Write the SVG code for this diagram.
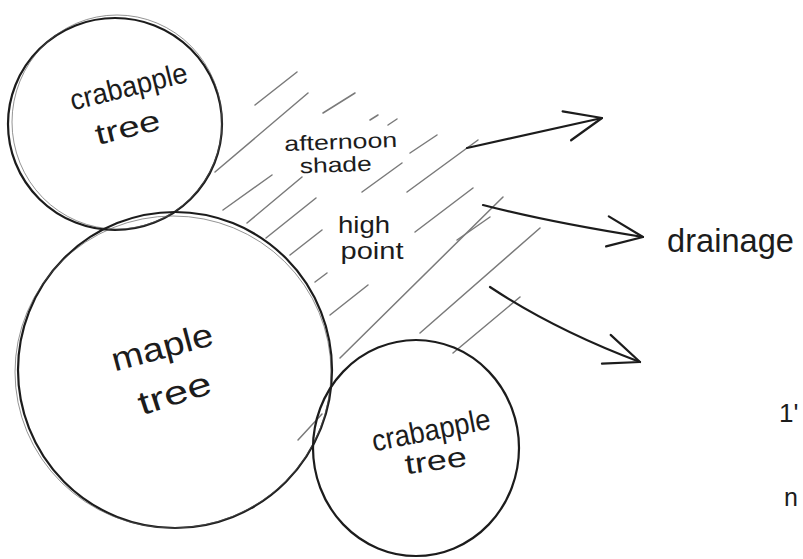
<svg xmlns="http://www.w3.org/2000/svg" width="803" height="559" viewBox="0 0 803 559">
<style>
.bg{fill:#ffffff}
.tree{fill:none;stroke:#1c1c1c;stroke-width:2.2}
.tree2{fill:none;stroke:#555;stroke-width:0.9;opacity:0.7}
.hatch{stroke:#7a7a7a;stroke-width:1.5;stroke-linecap:round;fill:none}
.arrow{fill:none;stroke:#1c1c1c;stroke-width:2.2;stroke-linecap:round}
.lbl{font-family:"Liberation Sans","DejaVu Sans",sans-serif;fill:#1c1c1c}
</style>
<defs>
<marker id="chev" markerUnits="userSpaceOnUse" markerWidth="60" markerHeight="60" refX="0" refY="0" viewBox="-45 -30 50 60" orient="auto" overflow="visible">
<path d="M-37,-15 L0,0 L-35,15" fill="none" stroke="#1c1c1c" stroke-width="2.2" stroke-linecap="round" stroke-linejoin="round"/>
</marker>
</defs>
<rect class="bg" x="0" y="0" width="803" height="559"/>

<g id="shade-hatch">
<line class="hatch" x1="255" y1="105" x2="297" y2="72"/>
<line class="hatch" x1="215" y1="172" x2="308" y2="93"/>
<line class="hatch" x1="323" y1="113" x2="355" y2="93"/>
<line class="hatch" x1="370" y1="120" x2="378" y2="115"/>
<line class="hatch" x1="388" y1="125" x2="397" y2="119"/>
<line class="hatch" x1="410" y1="153" x2="437" y2="135"/>
<line class="hatch" x1="362" y1="192" x2="402" y2="163"/>
<line class="hatch" x1="407" y1="192" x2="478" y2="140"/>
<line class="hatch" x1="223" y1="210" x2="272" y2="175"/>
<line class="hatch" x1="247" y1="223" x2="302" y2="177"/>
<line class="hatch" x1="266" y1="238" x2="316" y2="198"/>
<line class="hatch" x1="290" y1="255" x2="322" y2="230"/>
<line class="hatch" x1="315" y1="282" x2="327" y2="273"/>
<line class="hatch" x1="330" y1="315" x2="368" y2="285"/>
<line class="hatch" x1="340" y1="358" x2="503" y2="197"/>
<line class="hatch" x1="415" y1="232" x2="473" y2="188"/>
<line class="hatch" x1="457" y1="240" x2="490" y2="217"/>
<line class="hatch" x1="420" y1="333" x2="540" y2="228"/>
<line class="hatch" x1="453" y1="353" x2="520" y2="297"/>
<line class="hatch" x1="298" y1="440" x2="322" y2="414"/>
</g>

<g id="crabapple-top">
<ellipse class="tree" cx="115" cy="124" rx="107" ry="106"/>
<ellipse class="tree2" cx="117" cy="122" rx="105" ry="107"/>
<text class="lbl" font-size="29" textLength="120" lengthAdjust="spacingAndGlyphs" transform="translate(131,96) rotate(-14)" text-anchor="middle" x="0" y="0">crabapple</text>
<text class="lbl" font-size="29" textLength="66" lengthAdjust="spacingAndGlyphs" transform="translate(130,137) rotate(-14)" text-anchor="middle" x="0" y="0">tree</text>
</g>

<g id="maple">
<ellipse class="tree" cx="175" cy="370" rx="157" ry="158"/>
<ellipse class="tree2" cx="173" cy="372" rx="158" ry="156"/>
<text class="lbl" font-size="33" textLength="104" lengthAdjust="spacingAndGlyphs" transform="translate(165,358) rotate(-15)" text-anchor="middle" x="0" y="0">maple</text>
<text class="lbl" font-size="33" textLength="75" lengthAdjust="spacingAndGlyphs" transform="translate(178,404) rotate(-18)" text-anchor="middle" x="0" y="0">tree</text>
</g>

<g id="crabapple-bottom">
<ellipse class="tree" cx="416" cy="448" rx="103" ry="108"/>
<text class="lbl" font-size="30" textLength="120" lengthAdjust="spacingAndGlyphs" transform="translate(433,440) rotate(-11)" text-anchor="middle" x="0" y="0">crabapple</text>
<text class="lbl" font-size="28" textLength="62" lengthAdjust="spacingAndGlyphs" transform="translate(437,470) rotate(-8)" text-anchor="middle" x="0" y="0">tree</text>
</g>

<g id="shade-label">
<text class="lbl" font-size="21" textLength="113" lengthAdjust="spacingAndGlyphs" transform="translate(341,149) rotate(-2)" text-anchor="middle" x="0" y="0">afternoon</text>
<text class="lbl" font-size="21" textLength="72" lengthAdjust="spacingAndGlyphs" transform="translate(336,172) rotate(-2)" text-anchor="middle" x="0" y="0">shade</text>
</g>

<g id="high-point">
<text class="lbl" font-size="24" textLength="52" lengthAdjust="spacingAndGlyphs" x="364" y="233" text-anchor="middle">high</text>
<text class="lbl" font-size="24" textLength="63" lengthAdjust="spacingAndGlyphs" x="372" y="259" text-anchor="middle">point</text>
</g>

<g id="drainage">
<text class="lbl" font-size="33" textLength="127" lengthAdjust="spacingAndGlyphs" x="667" y="252">drainage</text>
</g>

<g id="edge-text">
<text class="lbl" font-size="26" x="779" y="422">1'</text>
<text class="lbl" font-size="25" x="784" y="506">n</text>
</g>

<g id="connectors">
<path class="arrow" d="M467,148 L602,118" marker-end="url(#chev)"/>
<path class="arrow" d="M483,205 Q548,222 643,237" marker-end="url(#chev)"/>
<path class="arrow" d="M490,287 Q555,330 640,362" marker-end="url(#chev)"/>
</g>
</svg>
